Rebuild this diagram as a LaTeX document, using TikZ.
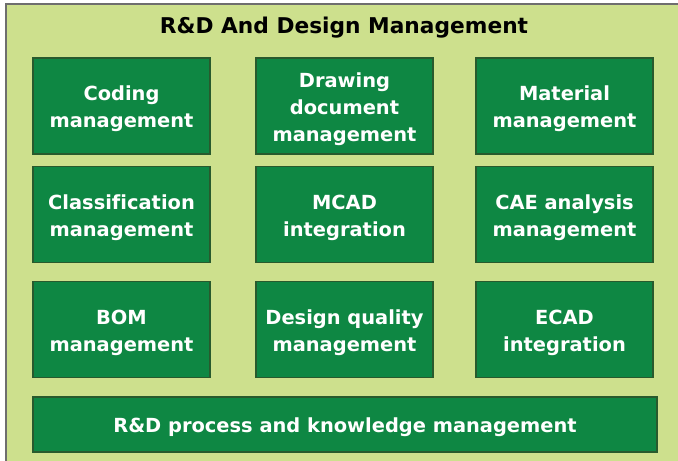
\documentclass[tikz,border=0pt]{standalone}
\usepackage{fontspec}
\setmainfont{DejaVu Sans}[Ligatures=NoCommon]
\usepackage{xcolor}
\usetikzlibrary{positioning}
\definecolor{panelbg}{RGB}{205,224,141}
\definecolor{boxfill}{RGB}{14,135,67}
\definecolor{boxline}{RGB}{40,90,45}
\definecolor{frameline}{RGB}{110,110,110}
\newcommand{\modstrut}{\rule{0pt}{21bp}}

\begin{document}
\begin{tikzpicture}[
    x=1bp, y=-1bp,
    module/.style={draw=boxline, line width=1.2bp, fill=boxfill, text=white,
        minimum width=177bp, minimum height=96bp, inner sep=0pt, align=center,
        font=\bfseries\fontsize{19.5}{27}\selectfont},
    wide/.style={module, minimum width=624bp, minimum height=55bp},
    heading/.style={font=\bfseries\fontsize{21.8}{26}\selectfont, text=black}
]
\useasboundingbox (0,0) rectangle (678,461);
\fill[white] (0,0) rectangle (678,461);
\draw[frameline, fill=panelbg, line width=1.5bp] (6,4) rectangle (690,475);

\node[heading] (title) at (344,28) {R\&D And Design Management};

% first row
\node[module] (coding) at (121.5,106) {\modstrut Coding\\management};
\node[module] (drawing) at (344.5,106) {\modstrut Drawing\\document\\management};
\node[module] (material) at (564.5,106) {\modstrut Material\\management};
% second row
\node[module] (classif) at (121.5,214.5) {\modstrut Classification\\management};
\node[module] (mcad) at (344.5,214.5) {\modstrut MCAD\\integration};
\node[module] (cae) at (564.5,214.5) {\modstrut CAE analysis\\management};
% third row
\node[module] (bom) at (121.5,329.5) {\modstrut BOM\\management};
\node[module] (quality) at (344.5,329.5) {\modstrut Design quality\\management};
\node[module] (ecad) at (564.5,329.5) {\modstrut ECAD\\integration};

\node[wide] (process) at (345,424.5) {\modstrut R\&D process and knowledge management};
\end{tikzpicture}
\end{document}
